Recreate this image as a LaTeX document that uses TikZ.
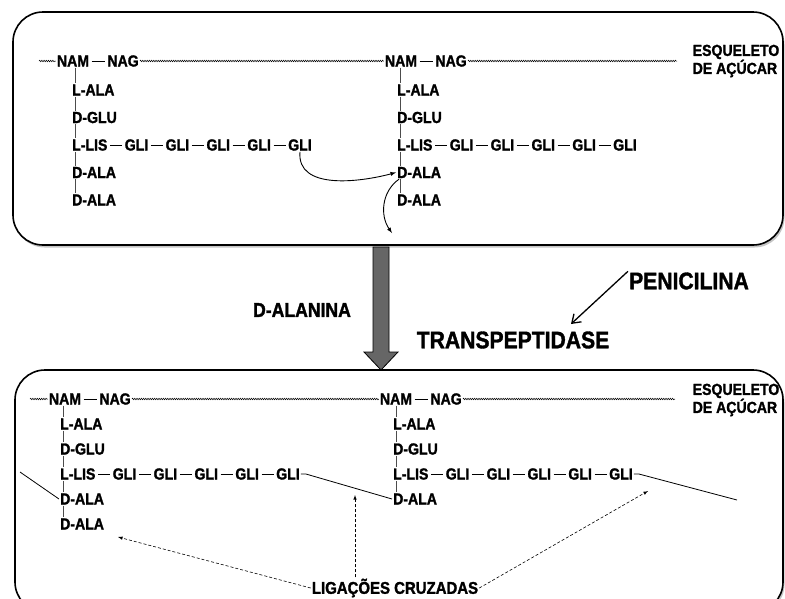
\documentclass[tikz,border=0pt]{standalone}
\usepackage{fontspec}
\setmainfont{Liberation Sans}
\newfontfamily\narrowfont[FakeStretch=0.88, FakeBold=1.5]{Liberation Sans Bold}
\usetikzlibrary{arrows,arrows.meta,positioning,decorations.pathmorphing,shadows}
\tikzset{res/.style={font=\narrowfont\fontsize{16}{18}\selectfont, inner sep=1pt}}
\tikzset{big/.style={font=\narrowfont\fontsize{24}{24}\selectfont, inner sep=1pt}}
\tikzset{bond/.style={shorten <=1.5pt, shorten >=1.5pt, line width=0.8pt}}
\tikzset{tick/.style={line width=0.8pt, black!70}}
\tikzset{sugar/.style={decorate, decoration={snake, amplitude=0.8pt, segment length=2.2pt}, line width=0.5pt}}
\tikzset{cell/.style={draw, line width=1.6pt, rounded corners=30pt, fill=white, drop shadow={shadow xshift=1.5pt, shadow yshift=-2.5pt, fill=black!45}}}
\tikzset{link/.style={line width=0.8pt}}
\tikzset{hint/.style={->, densely dashed, line width=0.6pt}}

\begin{document}
\begin{tikzpicture}[x=1pt, y=-1pt, >=latex]
  \useasboundingbox (0,0) rectangle (785,598);
  % the two panels
  \path[cell] (13,12) rectangle (783,245);
  \path[cell] (15,370) rectangle (783,612);

  % top panel
  \coordinate (c1) at (75,0);
  \coordinate (c2) at (400,0);
  \node[res] (nam1) at (73,61) {NAM};
  \node[res, right=16pt of nam1] (nag1) {NAG};
  \node[res] (nam2) at (401,61) {NAM};
  \node[res, right=16pt of nam2] (nag2) {NAG};
  \foreach \n/\t [count=\i from 0] in {a/L-ALA,b/D-GLU,c/L-LIS,d/D-ALA,e/D-ALA}
  {
    \node[res, anchor=west] (p1\n) at (71,{90+27.5*\i}) {\t};
    \node[res, anchor=west] (p2\n) at (396,{90+27.5*\i}) {\t};
  }
  \foreach \k/\j in {1/p1c,2/g11,3/g12,4/g13,5/g14}
    \node[res, right=15pt of \j] (g1\k) {GLI};
  \foreach \k/\j in {1/p2c,2/g21,3/g22,4/g23,5/g24}
    \node[res, right=15pt of \j] (g2\k) {GLI};
  \draw[bond] (nam1) -- (nag1);
  \draw[bond] (nam2) -- (nag2);
  \foreach \u/\v in {p1c/g11,g11/g12,g12/g13,g13/g14,g14/g15,p2c/g21,g21/g22,g22/g23,g23/g24,g24/g25}
    \draw[bond] (\u) -- (\v);
  \foreach \u/\v in {nam1/p1a,p1a/p1b,p1b/p1c,p1c/p1d,p1d/p1e}
    \draw[tick] (\u.south -| c1) -- (\v.north -| c1);
  \foreach \u/\v in {nam2/p2a,p2a/p2b,p2b/p2c,p2c/p2d,p2d/p2e}
    \draw[tick] (\u.south -| c2) -- (\v.north -| c2);
  \coordinate (w1) at (39,61);
  \coordinate (w2) at (677,61);
  \draw[sugar] (w1) -- (nam1.west);
  \draw[sugar] (nag1.east) -- (nam2.west);
  \draw[sugar] (nag2.east) -- (w2);
  \node[res, align=left] (esq1) at (736,61) {ESQUELETO\\DE AÇÚCAR};
  \coordinate (t0) at (392,233);
  \draw[->, line width=0.9pt] (g15.south) to[out=-95, in=195] (p2d.west);
  \draw[->, line width=0.9pt] ([xshift=3pt]p2d.south west) to[out=215, in=125] (t0);

  % between the panels
  \filldraw[fill=black!60, line width=0.8pt] (373,247) -- (389,247) -- (389,352) -- (398,352)
    -- (381,370) -- (364,352) -- (373,352) -- cycle;
  \node[res, font=\narrowfont\fontsize{20}{20}\selectfont] (dal) at (302,310) {D-ALANINA};
  \node[big] (pen) at (689,281) {PENICILINA};
  \node[big] (tra) at (513,340) {TRANSPEPTIDASE};
  \coordinate (ptip) at (571,324);
  \draw[-{Straight Barb[length=8pt, width=11pt]}, line width=1.3pt] (pen.north west) -- (ptip);

  % bottom panel
  \coordinate (c3) at (63,0);
  \coordinate (c4) at (396,0);
  \node[res] (nam3) at (65,399) {NAM};
  \node[res, right=16pt of nam3] (nag3) {NAG};
  \node[res] (nam4) at (396,399) {NAM};
  \node[res, right=16pt of nam4] (nag4) {NAG};
  \foreach \n/\t [count=\i from 0] in {a/L-ALA,b/D-GLU,c/L-LIS,d/D-ALA,e/D-ALA}
    \node[res, anchor=west] (q1\n) at (59,{424+25*\i}) {\t};
  \foreach \n/\t [count=\i from 0] in {a/L-ALA,b/D-GLU,c/L-LIS,d/D-ALA}
    \node[res, anchor=west] (q2\n) at (392,{424+25*\i}) {\t};
  \foreach \k/\j in {1/q1c,2/g31,3/g32,4/g33,5/g34}
    \node[res, right=15pt of \j] (g3\k) {GLI};
  \foreach \k/\j in {1/q2c,2/g41,3/g42,4/g43,5/g44}
    \node[res, right=15pt of \j] (g4\k) {GLI};
  \draw[bond] (nam3) -- (nag3);
  \draw[bond] (nam4) -- (nag4);
  \foreach \u/\v in {q1c/g31,g31/g32,g32/g33,g33/g34,g34/g35,q2c/g41,g41/g42,g42/g43,g43/g44,g44/g45}
    \draw[bond] (\u) -- (\v);
  \foreach \u/\v in {nam3/q1a,q1a/q1b,q1b/q1c,q1c/q1d,q1d/q1e}
    \draw[tick] (\u.south -| c3) -- (\v.north -| c3);
  \foreach \u/\v in {nam4/q2a,q2a/q2b,q2b/q2c,q2c/q2d}
    \draw[tick] (\u.south -| c4) -- (\v.north -| c4);
  \coordinate (w3) at (30,399);
  \coordinate (w4) at (675,399);
  \draw[sugar] (w3) -- (nam3.west);
  \draw[sugar] (nag3.east) -- (nam4.west);
  \draw[sugar] (nag4.east) -- (w4);
  \node[res, align=left] (esq2) at (736,400) {ESQUELETO\\DE AÇÚCAR};
  % cross links
  \coordinate (x1) at (20,472);
  \coordinate (x2) at (737,500);
  \draw[link] (x1) -- (q1d.west);
  \draw[link] (g35.east) -- ++(5,0) -- (q2d.west);
  \draw[link] (g45.east) -- ++(5,0) -- (x2);
  \node[res, font=\narrowfont\fontsize{17}{17}\selectfont] (lig) at (395,588) {LIGAÇÕES CRUZADAS};
  \coordinate (t1) at (118,537);
  \coordinate (t2) at (355,495);
  \coordinate (t3) at (648,491);
  \draw[hint] (lig.west) -- (t1);
  \draw[hint] (lig.north -| t2) -- (t2);
  \draw[hint] (lig.east) -- (t3);
\end{tikzpicture}
\end{document}
